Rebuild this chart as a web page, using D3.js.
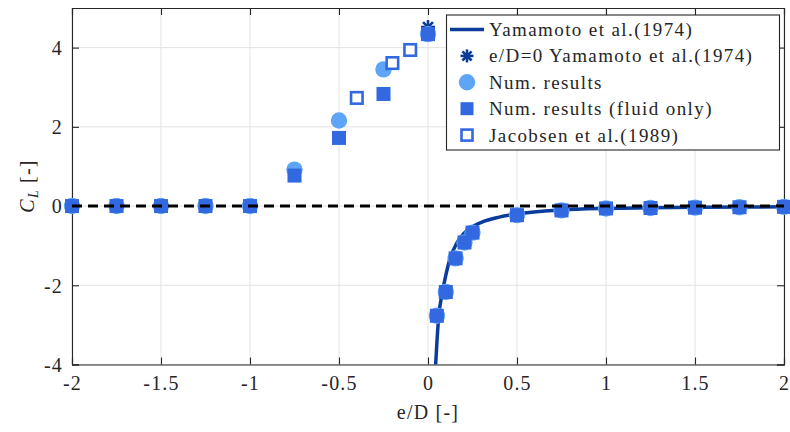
<!DOCTYPE html>
<html><head><meta charset="utf-8">
<script src="https://cdn.jsdelivr.net/npm/d3@7"></script>
</head><body style="margin:0;background:#fff">
<svg id="c" width="790" height="432" style="display:block"></svg>
<script>
// ---- data ----
const xNum = [-2,-1.75,-1.5,-1.25,-1,-0.75,-0.5,-0.25,0,0.05,0.1,0.155,0.205,0.25,0.5,0.75,1,1.25,1.5,1.75,2];
const clNum = [0,0,0,0,0,0.92,2.16,3.45,4.34,-2.77,-2.17,-1.32,-0.92,-0.67,-0.23,-0.11,-0.06,-0.05,-0.04,-0.03,-0.02];
const clFluid = [0,0,0,0,0,0.77,1.72,2.83,4.34,-2.77,-2.17,-1.32,-0.92,-0.67,-0.23,-0.11,-0.06,-0.05,-0.04,-0.03,-0.02];
const xJac = [-0.4,-0.2,-0.1];
const clJac = [2.73,3.61,3.94];
const xYam = [0.043,0.05,0.06,0.08,0.1,0.12,0.16,0.2,0.25,0.3,0.4,0.5,0.75,1.0,1.25,1.5,2.0];
const clYam = [-4.0,-3.45,-2.8,-2.2,-1.75,-1.38,-0.95,-0.7,-0.52,-0.41,-0.28,-0.2,-0.1,-0.06,-0.04,-0.03,-0.02];
const xYam0 = [0];
const clYam0 = [4.52];
const xZero = [-2,2];
const clZero = [0,0];
const xTicks = [-2,-1.5,-1,-0.5,0,0.5,1,1.5,2];
const yTicks = [-4,-2,0,2,4];
const legendLabels = ["Yamamoto et al.(1974)","e/D=0 Yamamoto et al.(1974)","Num. results","Num. results (fluid only)","Jacobsen et al.(1989)"];

// ---- style ----
const cCurve="#0a3c9c", cStar="#0a3c96", cCirc="#5ea5f7", cSq="#3268e0", cTxt="#262626";
function font(sel,size,ls){sel.attr("font-family",null).style("font-family","'Liberation Serif', monospace").style("font-size",size+"px").style("fill",cTxt);if(ls!==undefined)sel.style("letter-spacing",ls+"px");return sel;}
const svg=d3.select("#c");
const L=72,R=784,T=8,B=364.5;
const x=d3.scaleLinear().domain([-2,2]).range([L,R]);
const y=d3.scaleLinear().domain([-4,5]).range([B,T]);

// grid
const g=svg.append("g");
g.selectAll(".gx").data(xTicks).join("line").attr("x1",d=>x(d)).attr("x2",d=>x(d)).attr("y1",T).attr("y2",B).attr("stroke","#e3e3e3").attr("stroke-width",1);
g.selectAll(".gy").data(yTicks).join("line").attr("y1",d=>y(d)).attr("y2",d=>y(d)).attr("x1",L).attr("x2",R).attr("stroke","#e3e3e3").attr("stroke-width",1);

// axes via d3 axis (inward ticks)
const ax=svg.append("g");
const bx=ax.append("g").attr("transform",`translate(0,${B})`).call(d3.axisBottom(x).tickValues(xTicks).tickSize(-7).tickPadding(15).tickFormat(d=>String(d)));
ax.append("g").attr("transform",`translate(0,${T})`).call(d3.axisTop(x).tickValues(xTicks).tickSize(-7).tickFormat(""));
const lyA=ax.append("g").attr("transform",`translate(${L},0)`).call(d3.axisLeft(y).tickValues(yTicks).tickSize(-7).tickPadding(9).tickFormat(d=>String(d)));
ax.append("g").attr("transform",`translate(${R},0)`).call(d3.axisRight(y).tickValues(yTicks).tickSize(-7).tickFormat(""));
ax.selectAll("g").attr("font-family",null).attr("font-size",null);
ax.selectAll(".domain").attr("stroke",cTxt).attr("stroke-width",1.1);
ax.selectAll(".tick line").attr("stroke",cTxt).attr("stroke-width",1.1);
font(ax.selectAll(".tick text"),20,1.2);
bx.selectAll(".tick text").attr("dy","0.5em");
lyA.selectAll(".tick text").attr("dy","0.34em");

// curve
const pts=xYam.map((v,i)=>[v,clYam[i]]);
svg.append("path").datum(pts).attr("d",d3.line().x(d=>x(d[0])).y(d=>y(d[1])).curve(d3.curveMonotoneX)).attr("fill","none").attr("stroke",cCurve).attr("stroke-width",3.5);

// asterisk
function star(sel,cx,cy,r,col,w){
  const gg=sel.append("g").attr("transform",`translate(${cx},${cy})`);
  [0,45,90,135].forEach(a=>{const rad=a*Math.PI/180;gg.append("line").attr("x1",-r*Math.cos(rad)).attr("y1",-r*Math.sin(rad)).attr("x2",r*Math.cos(rad)).attr("y2",r*Math.sin(rad)).attr("stroke",col).attr("stroke-width",w);});
}
xYam0.forEach((v,i)=>star(svg,x(v),y(clYam0[i]),7,cStar,2.6));

// circles
svg.append("g").selectAll("circle").data(xNum.map((v,i)=>[v,clNum[i]])).join("circle").attr("cx",d=>x(d[0])).attr("cy",d=>y(d[1])).attr("r",8.2).attr("fill",cCirc);
// filled squares
const s=14;
svg.append("g").selectAll("rect").data(xNum.map((v,i)=>[v,clFluid[i]])).join("rect").attr("x",d=>x(d[0])-s/2).attr("y",d=>y(d[1])-s/2).attr("width",s).attr("height",s).attr("fill",cSq);
// open squares
const so=11.5;
svg.append("g").selectAll("rect").data(xJac.map((v,i)=>[v,clJac[i]])).join("rect").attr("x",d=>x(d[0])-so/2).attr("y",d=>y(d[1])-so/2).attr("width",so).attr("height",so).attr("fill","#fff").attr("stroke",cSq).attr("stroke-width",2.6);

// zero dashed line
svg.append("path").datum(xZero.map((v,i)=>[v,clZero[i]])).attr("d",d3.line().x(d=>x(d[0])).y(d=>y(d[1]))).attr("stroke","#000").attr("stroke-width",3).attr("stroke-dasharray","10,6").attr("fill","none");

// labels
font(svg.append("text").attr("x",428).attr("y",419).attr("text-anchor","middle"),20,1.2).text("e/D [-]");
const yl=font(svg.append("text").attr("transform","translate(34,186) rotate(-90)").attr("text-anchor","middle"),20,1.2);
yl.append("tspan").style("font-style","italic").text("C");
yl.append("tspan").style("font-style","italic").style("font-size","14px").attr("dy",4).text("L");
yl.append("tspan").attr("dy",-4).text(" [-]");

// legend
const lg=svg.append("g");
lg.append("rect").attr("x",446.5).attr("y",15).attr("width",333).attr("height",135).attr("fill","#fff").attr("stroke",cTxt).attr("stroke-width",1.1);
const ly0=29.5, dyL=26.4;
lg.append("line").attr("x1",450).attr("x2",484).attr("y1",ly0).attr("y2",ly0).attr("stroke",cCurve).attr("stroke-width",3.5);
star(lg,467,ly0+dyL,6.5,cStar,2.6);
lg.append("circle").attr("cx",467).attr("cy",ly0+2*dyL).attr("r",8.2).attr("fill",cCirc);
lg.append("rect").attr("x",467-6.5).attr("y",ly0+3*dyL-6.5).attr("width",13).attr("height",13).attr("fill",cSq);
lg.append("rect").attr("x",467-5.5).attr("y",ly0+4*dyL-5.5).attr("width",11).attr("height",11).attr("fill","#fff").attr("stroke",cSq).attr("stroke-width",2.6);
font(lg.selectAll("text.l").data(legendLabels).join("text").attr("x",489).attr("y",(d,i)=>ly0+i*dyL+6.5),19,1.4).text(d=>d);
</script></body></html>
